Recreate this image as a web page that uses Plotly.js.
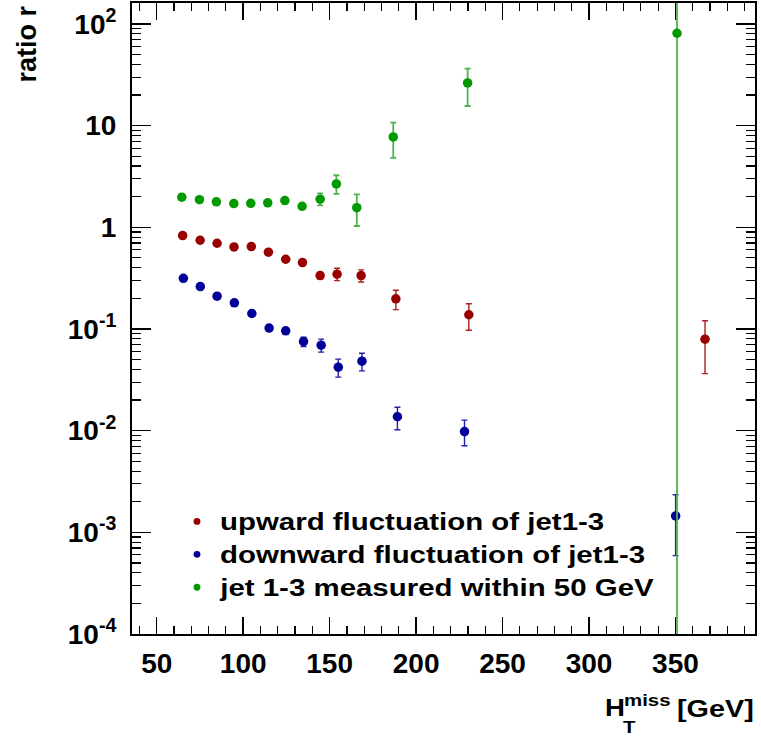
<!DOCTYPE html>
<html>
<head>
<meta charset="utf-8">
<script src="https://cdn.plot.ly/plotly-3.0.1.min.js"></script>
<style>
html,body{margin:0;padding:0;background:#fff;}
#chart{width:761px;height:740px;}
#chart .legend, #chart .legend .scrollbox, #chart .legend g{clip-path:none !important;}
#chart .legendtext{transform-box:fill-box;transform-origin:0% 50%;transform:scaleX(1.28);}
#chart .legendpoints path.scatterpts{transform:translate(17px,0px) scale(0.72) !important;}
#chart g.annotation[data-index="1"] text,
#chart g.annotation[data-index="2"] text,
#chart g.annotation[data-index="3"] text,
#chart g.annotation[data-index="4"] text{transform-box:fill-box;transform-origin:0% 50%;transform:scaleX(1.2);}
</style>
</head>
<body>
<div id="chart"></div>
<script>
// ---- data ----
var seriesNames = ["upward fluctuation of jet1-3", "downward fluctuation of jet1-3", "jet 1-3 measured within 50 GeV"];

var xRed = [65.0, 75.1, 84.9, 94.7, 104.7, 114.6, 124.6, 134.3, 144.5, 154.3, 168.2, 188.3, 230.5, 367.1];
var yRed = [0.83, 0.746, 0.697, 0.641, 0.646, 0.569, 0.485, 0.450, 0.335, 0.346, 0.335, 0.198, 0.138, 0.0794];
var errRedUp   = [0.02, 0.02, 0.02, 0.02, 0.02, 0.02, 0.02, 0.02, 0.025, 0.05, 0.046, 0.042, 0.039, 0.041];
var errRedDown = [0.02, 0.02, 0.02, 0.02, 0.02, 0.02, 0.02, 0.02, 0.025, 0.047, 0.045, 0.043, 0.041, 0.043];

var xBlue = [65.4, 75.2, 84.9, 94.9, 105.0, 115.0, 124.6, 134.9, 145.1, 155.0, 168.7, 189.2, 228.0, 350.1];
var yBlue = [0.315, 0.261, 0.210, 0.181, 0.142, 0.102, 0.0958, 0.0752, 0.0692, 0.0421, 0.0482, 0.0137, 0.0098, 0.00145];
var errBlueUp   = [0.006, 0.005, 0.004, 0.004, 0.003, 0.003, 0.004, 0.0078, 0.0102, 0.0084, 0.0096, 0.0033, 0.0029, 0.00089];
var errBlueDown = [0.006, 0.005, 0.004, 0.004, 0.003, 0.003, 0.004, 0.0082, 0.0100, 0.0085, 0.0095, 0.0035, 0.0027, 0.00086];

var xGreen = [64.5, 74.7, 84.5, 94.6, 104.4, 114.2, 124.1, 134.1, 144.5, 153.9, 165.7, 186.8, 229.8, 350.9];
var yGreen = [1.98, 1.87, 1.78, 1.71, 1.72, 1.74, 1.83, 1.61, 1.89, 2.67, 1.56, 7.74, 26.3, 81];
var errGreenUp   = [0.05, 0.05, 0.05, 0.05, 0.05, 0.05, 0.05, 0.05, 0.27, 0.58, 0.55, 2.96, 10.1, 1000];
var errGreenDown = [0.05, 0.05, 0.05, 0.05, 0.05, 0.05, 0.05, 0.05, 0.25, 0.54, 0.53, 2.93, 10.7, 81];

var yTickVals = [1e-4, 1e-3, 1e-2, 1e-1, 1, 10, 100];
var yTickText = ["10<sup>-4</sup>", "10<sup>-3</sup>", "10<sup>-2</sup>", "10<sup>-1</sup>", "1", "10", "10<sup>2</sup>"];

// ---- styling ----
var FONT = "Liberation Sans, Arial, Helvetica, sans-serif";
var cRed = "#990000", cBlue = "#000099", cGreen = "#009900";

function mk(name, x, y, up, dn, col, ecol, ew) {
  return {
    type: "scatter", mode: "markers", name: name, x: x, y: y,
    marker: {color: col, size: 9.5, symbol: "circle"},
    error_y: {type: "data", symmetric: false, array: up, arrayminus: dn,
              color: ecol, thickness: ew, width: 3},
    cliponaxis: true
  };
}

var traces = [
  mk(seriesNames[0], xRed, yRed, errRedUp, errRedDown, cRed, "#a82020", 1.4),
  mk(seriesNames[1], xBlue, yBlue, errBlueUp, errBlueDown, cBlue, "#2020a8", 1.4),
  mk(seriesNames[2], xGreen, yGreen, errGreenUp, errGreenDown, cGreen, "#4db34d", 1.8)
];

function px2x(p) { return (p - 132) / 623; }
function px2y(p) { return (634 - p) / 631; }

var layout = {
  width: 761, height: 740,
  margin: {l: 132, r: 6, t: 3, b: 106, pad: 0},
  paper_bgcolor: "#fff", plot_bgcolor: "#fff",
  font: {family: FONT, color: "#000", weight: "bold"},
  showlegend: true,
  legend: {
    x: px2x(180), y: px2y(500), xanchor: "left", yanchor: "top",
    bgcolor: "rgba(0,0,0,0)", borderwidth: 0,
    font: {family: FONT, size: 23, color: "#000", weight: "bold"},
    itemsizing: "trace"
  },
  xaxis: {
    range: [35.7, 396], tickmode: "linear", tick0: 50, dtick: 50,
    ticks: "inside", ticklen: 17, tickwidth: 1.5, tickcolor: "#000",
    minor: {dtick: 10, tick0: 50, ticks: "inside", ticklen: 8, tickwidth: 1.2, tickcolor: "#000", showgrid: false},
    showline: true, linewidth: 2, linecolor: "#000", mirror: "allticks",
    showgrid: false, zeroline: false,
    tickfont: {family: FONT, size: 28, color: "#000", weight: "bold"},
    ticklabelstandoff: 3
  },
  yaxis: {
    type: "log", range: [-4, 2.206],
    tickmode: "array", tickvals: yTickVals, ticktext: yTickText,
    ticks: "inside", ticklen: 19, tickwidth: 1.5, tickcolor: "#000",
    minor: {dtick: "D1", ticks: "inside", ticklen: 9, tickwidth: 1.2, tickcolor: "#000", showgrid: false},
    showline: true, linewidth: 2, linecolor: "#000", mirror: "allticks",
    showgrid: false, zeroline: false,
    tickfont: {family: FONT, size: 28, color: "#000", weight: "bold"},
    ticklabelstandoff: 8
  },
  annotations: [
    {text: "ratio r", xref: "paper", yref: "paper", x: px2x(27), y: px2y(4),
     xanchor: "center", yanchor: "top", textangle: -90, showarrow: false,
     font: {family: FONT, size: 27, color: "#000", weight: "bold"}},
    {text: "H", xref: "paper", yref: "paper", x: px2x(603), y: px2y(708),
     xanchor: "left", yanchor: "middle", showarrow: false,
     font: {family: FONT, size: 23, color: "#000", weight: "bold"}},
    {text: "miss", xref: "paper", yref: "paper", x: px2x(622), y: px2y(700),
     xanchor: "left", yanchor: "middle", showarrow: false,
     font: {family: FONT, size: 17, color: "#000", weight: "bold"}},
    {text: "T", xref: "paper", yref: "paper", x: px2x(621), y: px2y(727),
     xanchor: "left", yanchor: "middle", showarrow: false,
     font: {family: FONT, size: 17, color: "#000", weight: "bold"}},
    {text: "[GeV]", xref: "paper", yref: "paper", x: px2x(675), y: px2y(708),
     xanchor: "left", yanchor: "middle", showarrow: false,
     font: {family: FONT, size: 24, color: "#000", weight: "bold"}}
  ]
};

Plotly.newPlot("chart", traces, layout, {staticPlot: true, displayModeBar: false});
</script>
</body>
</html>
